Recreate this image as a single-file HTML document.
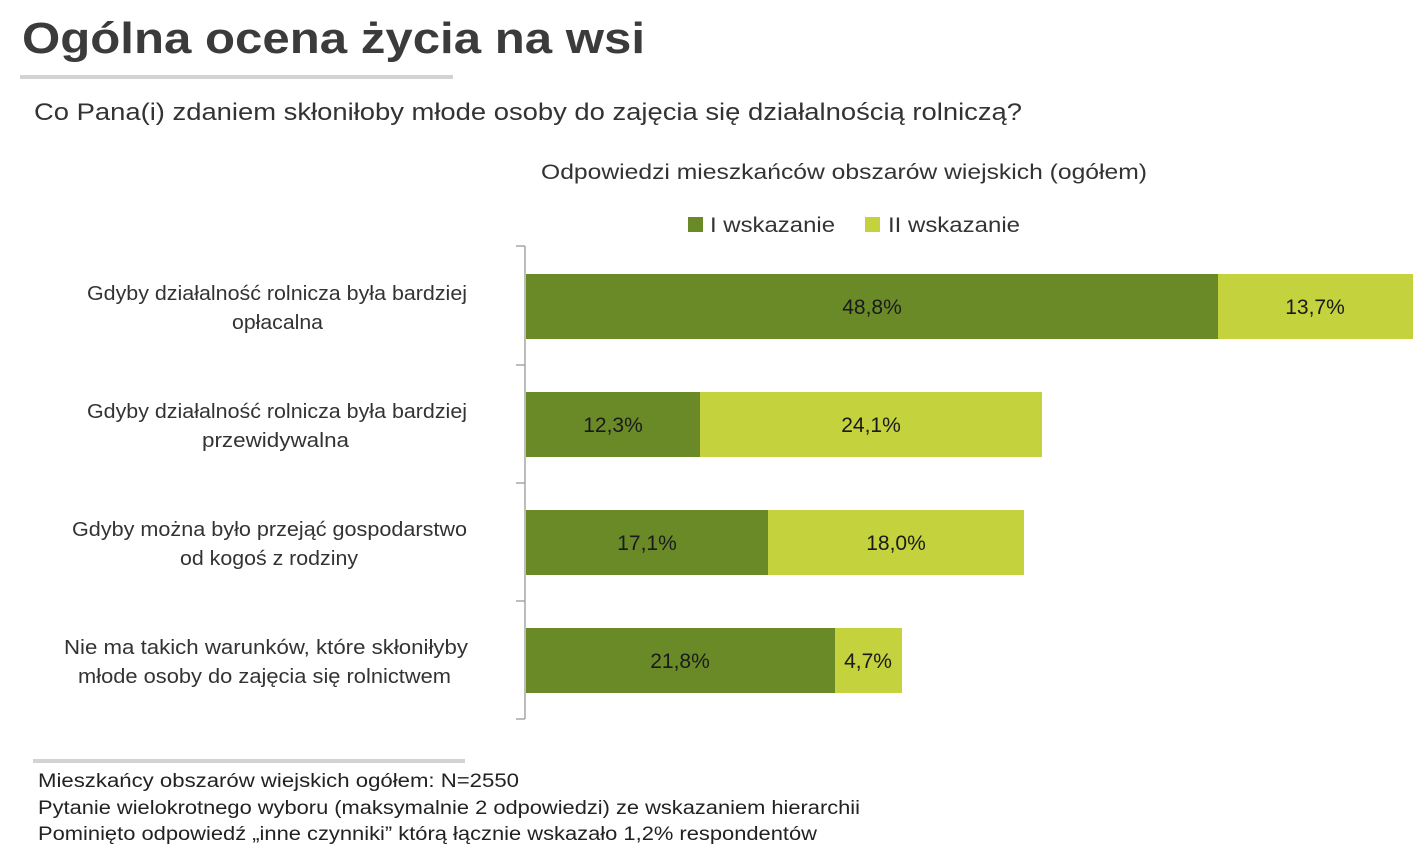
<!DOCTYPE html>
<html><head><meta charset="utf-8"><style>body{margin:0;background:#fff}svg{display:block}</style></head><body>
<svg width="1427" height="855" viewBox="0 0 1427 855" xmlns="http://www.w3.org/2000/svg" font-family="Liberation Sans, DejaVu Sans, sans-serif">
<text x="22" y="53" font-size="44" font-weight="bold" fill="#3b3b3b" textLength="623" lengthAdjust="spacingAndGlyphs">Ogólna ocena życia na wsi</text>
<rect x="20" y="75" width="433" height="4" fill="#d3d3d3"/>
<text x="34" y="120" font-size="24" fill="#333" textLength="988" lengthAdjust="spacingAndGlyphs">Co Pana(i) zdaniem skłoniłoby młode osoby do zajęcia się działalnością rolniczą?</text>
<text x="541" y="179" font-size="21" fill="#333" textLength="606" lengthAdjust="spacingAndGlyphs">Odpowiedzi mieszkańców obszarów wiejskich (ogółem)</text>
<rect x="688" y="217" width="15" height="15" fill="#6a8a28"/>
<text x="710" y="232" font-size="21" fill="#333" textLength="125" lengthAdjust="spacingAndGlyphs">I wskazanie</text>
<rect x="865" y="217" width="15" height="15" fill="#c4d23e"/>
<text x="888" y="232" font-size="21" fill="#333" textLength="132" lengthAdjust="spacingAndGlyphs">II wskazanie</text>
<g stroke="#999" stroke-width="1.3">
<line x1="525" y1="246" x2="525" y2="719"/>
<line x1="516" y1="246" x2="525" y2="246"/>
<line x1="516" y1="365" x2="525" y2="365"/>
<line x1="516" y1="483" x2="525" y2="483"/>
<line x1="516" y1="601" x2="525" y2="601"/>
<line x1="516" y1="719" x2="525" y2="719"/>
</g>
<rect x="526" y="274" width="692" height="65" fill="#6a8a28"/>
<rect x="1218" y="274" width="195" height="65" fill="#c4d23e"/>
<rect x="526" y="392" width="174" height="65" fill="#6a8a28"/>
<rect x="700" y="392" width="342" height="65" fill="#c4d23e"/>
<rect x="526" y="510" width="242" height="65" fill="#6a8a28"/>
<rect x="768" y="510" width="256" height="65" fill="#c4d23e"/>
<rect x="526" y="628" width="309" height="65" fill="#6a8a28"/>
<rect x="835" y="628" width="67" height="65" fill="#c4d23e"/>
<g font-size="21" fill="#1a1a1a" text-anchor="middle">
<text x="872" y="314">48,8%</text><text x="1315" y="314">13,7%</text>
<text x="613" y="432">12,3%</text><text x="871" y="432">24,1%</text>
<text x="647" y="550">17,1%</text><text x="896" y="550">18,0%</text>
<text x="680" y="668">21,8%</text><text x="868" y="668">4,7%</text>
</g>
<g font-size="20" fill="#333" lengthAdjust="spacingAndGlyphs">
<text x="87" y="300" textLength="380" lengthAdjust="spacingAndGlyphs">Gdyby działalność rolnicza była bardziej</text>
<text x="232" y="329" textLength="91" lengthAdjust="spacingAndGlyphs">opłacalna</text>
<text x="87" y="418" textLength="380" lengthAdjust="spacingAndGlyphs">Gdyby działalność rolnicza była bardziej</text>
<text x="202" y="447" textLength="147" lengthAdjust="spacingAndGlyphs">przewidywalna</text>
<text x="72" y="536" textLength="395" lengthAdjust="spacingAndGlyphs">Gdyby można było przejąć gospodarstwo</text>
<text x="180" y="565" textLength="178" lengthAdjust="spacingAndGlyphs">od kogoś z rodziny</text>
<text x="64" y="654" textLength="404" lengthAdjust="spacingAndGlyphs">Nie ma takich warunków, które skłoniłyby</text>
<text x="78" y="683" textLength="373" lengthAdjust="spacingAndGlyphs">młode osoby do zajęcia się rolnictwem</text>
</g>
<rect x="33" y="759" width="432" height="4" fill="#d3d3d3"/>
<g font-size="19" fill="#222">
<text x="38" y="787" textLength="481" lengthAdjust="spacingAndGlyphs">Mieszkańcy obszarów wiejskich ogółem: N=2550</text>
<text x="38" y="814" textLength="822" lengthAdjust="spacingAndGlyphs">Pytanie wielokrotnego wyboru (maksymalnie 2 odpowiedzi) ze wskazaniem hierarchii</text>
<text x="38" y="840" textLength="779" lengthAdjust="spacingAndGlyphs">Pominięto odpowiedź „inne czynniki” którą łącznie wskazało 1,2% respondentów</text>
</g>
</svg>
</body></html>
